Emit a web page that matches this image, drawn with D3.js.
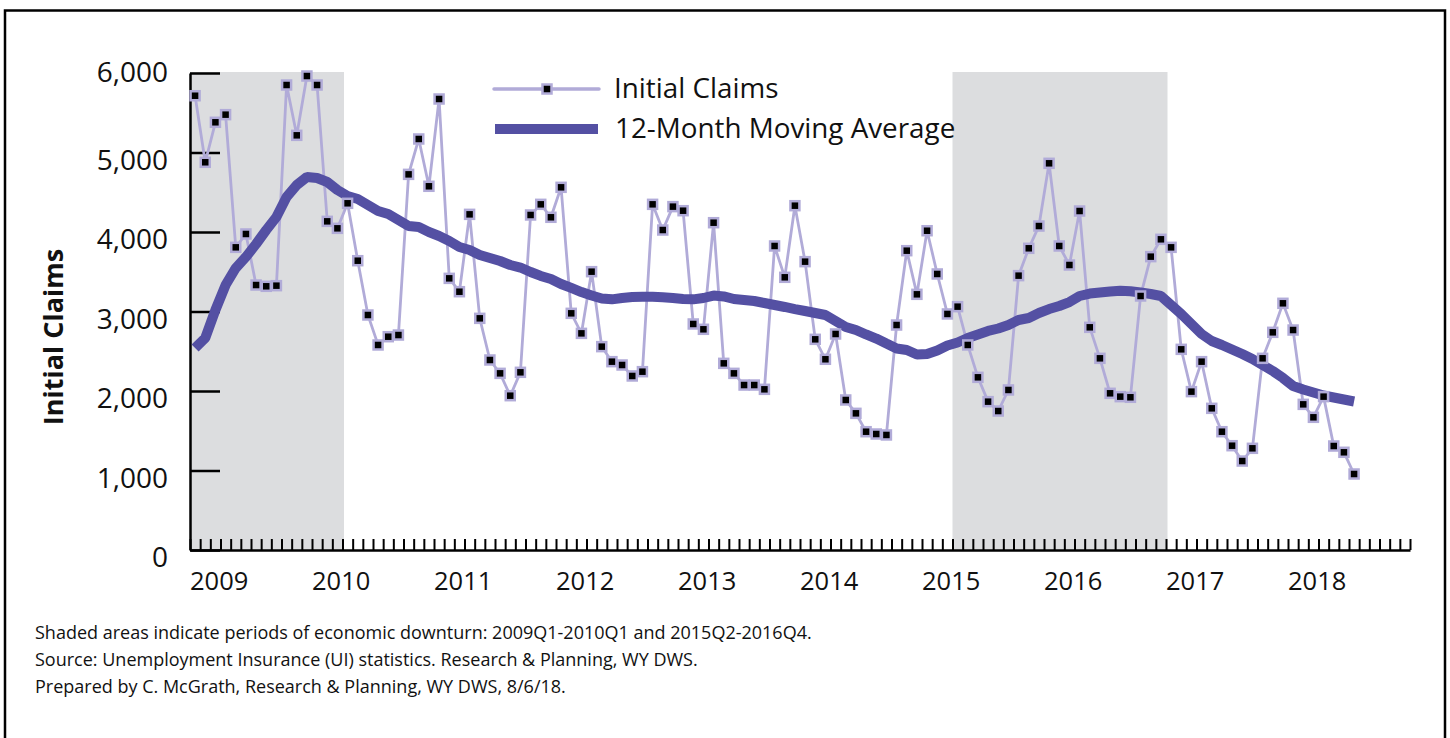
<!DOCTYPE html>
<html lang="en">
<head>
<meta charset="utf-8">
<script src="https://d3js.org/d3.v7.min.js"></script>
<style>
  body { margin: 0; background: #fff; }
  svg { display: block; font-family: "Open Sans", sans-serif; }
</style>
</head>
<body>
<div id="chart"></div>
<script>
// monthly data, Jan 2009 - Jul 2018
const startYear = 2009;
const claims = [
  5714, 4877, 5380, 5476, 3807, 3975, 3333, 3317, 3325, 5849, 5216, 5962,
  5849, 4134, 4046, 4361, 3639, 2956, 2579, 2683, 2704, 4725, 5170, 4575,
  5673, 3417, 3249, 4222, 2914, 2390, 2222, 1941, 2235, 4214, 4348, 4185,
  4562, 2977, 2725, 3501, 2558, 2369, 2327, 2189, 2243, 4348, 4025, 4319,
  4268, 2843, 2776, 4117, 2348, 2222, 2075, 2075, 2021, 3824, 3430, 4331,
  3627, 2650, 2399, 2717, 1887, 1719, 1488, 1459, 1447, 2830, 3765, 3216,
  4016, 3472, 2969, 3061, 2579, 2172, 1866, 1748, 2013, 3451, 3795, 4075,
  4864, 3824, 3585, 4264, 2801, 2411, 1971, 1929, 1921, 3195, 3690, 3908,
  3807, 2524, 1992, 2369, 1782, 1488, 1312, 1119, 1279, 2411, 2738, 3103,
  2767, 1832, 1669, 1929, 1308, 1229, 956
];
const movingAvg = [
  2541, 2667, 3019, 3333, 3547, 3686, 3849, 4025, 4189, 4440, 4591, 4692,
  4679, 4629, 4528, 4453, 4415, 4340, 4264, 4226, 4151, 4075, 4063, 4000,
  3950, 3887, 3811, 3774, 3711, 3673, 3635, 3585, 3553, 3497, 3447, 3409,
  3346, 3296, 3245, 3201, 3164, 3153, 3170, 3182, 3186, 3186, 3179, 3170,
  3157, 3153, 3170, 3201, 3189, 3157, 3145, 3132, 3107, 3082, 3057, 3031,
  3006, 2981, 2956, 2881, 2805, 2767, 2711, 2660, 2597, 2535, 2516, 2459,
  2465, 2509, 2572, 2610, 2667, 2711, 2755, 2786, 2830, 2893, 2918, 2981,
  3031, 3069, 3119, 3195, 3226, 3239, 3252, 3262, 3254, 3239, 3220, 3195,
  3082, 2969, 2843, 2717, 2629, 2579, 2522, 2465, 2403, 2327, 2252, 2164,
  2063, 2019, 1981, 1943, 1918, 1893, 1868
];
const yearLabels = ["2009", "2010", "2011", "2012", "2013", "2014", "2015", "2016", "2017", "2018"];
const yTicks = [0, 1000, 2000, 3000, 4000, 5000, 6000];
// downturns as [first month index, month index after last]
const downturns = [[0, 15], [75, 96]];
const footnotes = [
  "Shaded areas indicate periods of economic downturn: 2009Q1-2010Q1 and 2015Q2-2016Q4.",
  "Source: Unemployment Insurance (UI) statistics. Research & Planning, WY DWS.",
  "Prepared by C. McGrath, Research & Planning, WY DWS, 8/6/18."
];

const W = 1450, H = 738;
const lightC = "#b1abd8", darkC = "#5450a3", shadeC = "#dcdddf";

const svg = d3.select("#chart").append("svg")
  .attr("width", W).attr("height", H);

svg.append("rect").attr("width", W).attr("height", H).attr("fill", "#fff");
// outer frame
svg.append("rect")
  .attr("x", 5).attr("y", 10.5).attr("width", 1440).attr("height", 760)
  .attr("fill", "none").attr("stroke", "#000").attr("stroke-width", 2.5);

const x = d3.scaleLinear().domain([0, 120]).range([190, 1410]);
const y = d3.scaleLinear().domain([0, 6000]).range([550, 73]);

// shaded downturns
svg.append("g").selectAll("rect").data(downturns).join("rect")
  .attr("x", d => x(d[0]))
  .attr("width", d => x(d[1]) - x(d[0]) + 1.5)
  .attr("y", y(6000) - 1)
  .attr("height", y(0) - y(6000) + 1)
  .attr("fill", shadeC);

// x axis with monthly ticks pointing up
const xAxis = svg.append("g")
  .attr("transform", `translate(0,${y(0)})`)
  .call(d3.axisBottom(x).tickValues(d3.range(0, 121)).tickFormat("")
    .tickSizeInner(-11).tickSizeOuter(0));
xAxis.selectAll("line").attr("stroke", "#000").attr("stroke-width", 2);
xAxis.select(".domain").attr("stroke", "#000").attr("stroke-width", 2.5);

svg.append("g").selectAll("text").data(yearLabels).join("text")
  .attr("x", (d, i) => x(i * 12))
  .attr("y", 590)
  .attr("font-size", 25.5)
  .attr("fill", "#111")
  .text(d => d);

// y axis
const yAxis = svg.append("g")
  .attr("transform", `translate(${x(0)},0)`)
  .call(d3.axisLeft(y).tickValues(yTicks).tickFormat(d3.format(","))
    .tickSizeInner(-30).tickSizeOuter(0).tickPadding(22));
yAxis.selectAll("line").attr("stroke", "#000").attr("stroke-width", 2.5);
yAxis.select(".domain").attr("stroke", "#000").attr("stroke-width", 2.5);
yAxis.selectAll("text")
  .attr("font-size", 28)
  .attr("font-family", "Open Sans, sans-serif")
  .attr("fill", "#111")
  .attr("y", d => d === 6000 ? 0 : 8);

svg.append("text")
  .attr("transform", "translate(63,337) rotate(-90)")
  .attr("text-anchor", "middle")
  .attr("font-size", 27)
  .attr("font-weight", "bold")
  .attr("fill", "#111")
  .text("Initial Claims");

// initial claims line and markers
const lineFn = d3.line().x((d, i) => x(i + 0.5)).y(d => y(d));
svg.append("path").datum(claims)
  .attr("d", lineFn)
  .attr("fill", "none").attr("stroke", lightC).attr("stroke-width", 2.8);

// moving average
svg.append("path").datum(movingAvg)
  .attr("d", lineFn)
  .attr("fill", "none").attr("stroke", darkC).attr("stroke-width", 10)
  .attr("stroke-linejoin", "bevel");

svg.append("g").selectAll("rect").data(claims).join("rect")
  .attr("x", (d, i) => x(i + 0.5) - 4.5)
  .attr("y", d => y(d) - 4.5)
  .attr("width", 9).attr("height", 9)
  .attr("fill", "#000").attr("stroke", lightC).attr("stroke-width", 2.5);

// legend
const lg = svg.append("g");
lg.append("line").attr("x1", 494).attr("x2", 599).attr("y1", 89).attr("y2", 89)
  .attr("stroke", lightC).attr("stroke-width", 3.5).attr("stroke-linecap", "round");
lg.append("rect").attr("x", 542.5).attr("y", 84.5).attr("width", 9).attr("height", 9)
  .attr("fill", "#000").attr("stroke", lightC).attr("stroke-width", 2.5);
lg.append("line").attr("x1", 495).attr("x2", 598).attr("y1", 129).attr("y2", 129)
  .attr("stroke", darkC).attr("stroke-width", 10);
lg.append("text").attr("x", 614).attr("y", 97.5).attr("font-size", 27.8)
  .attr("fill", "#111").text("Initial Claims");
lg.append("text").attr("x", 615).attr("y", 138).attr("font-size", 27.8)
  .attr("fill", "#111").text("12-Month Moving Average");

// footnotes
svg.append("g").selectAll("text").data(footnotes).join("text")
  .attr("x", 35)
  .attr("y", (d, i) => 639 + i * 27)
  .attr("font-size", 18)
  .attr("fill", "#111")
  .text(d => d);
</script>
</body>
</html>
